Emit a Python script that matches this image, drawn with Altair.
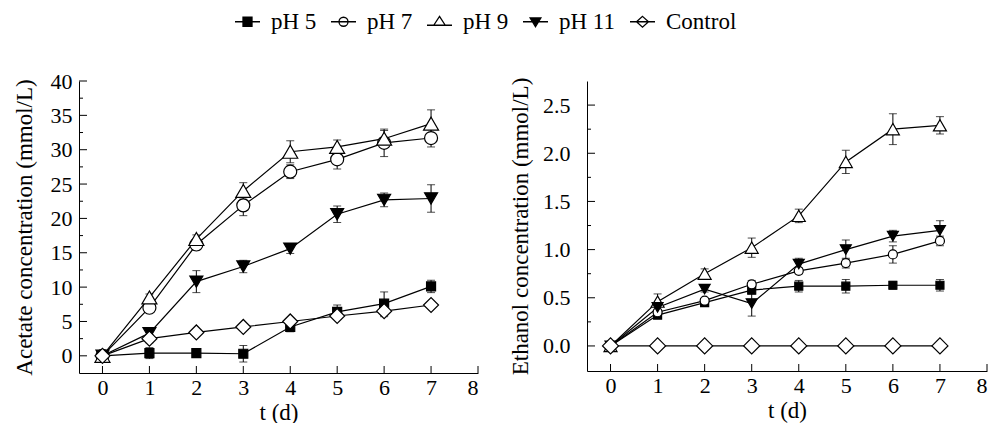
import altair as alt
import pandas as pd

DAYS = [0, 1, 2, 3, 4, 5, 6, 7]
SERIES = ["pH 5", "pH 7", "pH 9", "pH 11", "Control"]
SHAPES = ["square", "circle", "triangle-up", "triangle-down", "diamond"]
FILLS = ["black", "white", "white", "black", "white"]
SIZES_AC = [81, 169, 225, 169, 225]
SIZES_ET = [64, 81, 169, 121, 256]
LEGEND_PATHS = [
    "M-1,0L1,0M-0.36,-0.36L0.36,-0.36L0.36,0.36L-0.36,0.36Z",
    "M-1,0L1,0M0.36,0A0.36,0.36,0,1,1,-0.36,0A0.36,0.36,0,1,1,0.36,0Z",
    "M-1,0.28L1,0.28M0,-0.43L0.46,0.28L-0.46,0.28Z",
    "M-1,0L1,0M0,0.4L0.43,-0.3L-0.43,-0.3Z",
    "M-1,0L1,0M0,-0.43L0.48,0L0,0.43L-0.48,0Z",
]

# Acetate (mmol/L)
ac_ph5 = [0, 0.4, 0.4, 0.3, 4.2, 6.4, 7.6, 10.1]
ac_ph5_err = [0, 0.8, 0.3, 1.2, 0.7, 1.0, 1.7, 0.9]
ac_ph7 = [0, 7.0, 16.2, 21.9, 26.8, 28.6, 31.0, 31.7]
ac_ph7_err = [0, 0.5, 0.8, 1.5, 1.0, 1.4, 2.0, 1.3]
ac_ph9 = [0, 8.5, 17.0, 24.0, 29.7, 30.4, 31.6, 33.8]
ac_ph9_err = [0, 0.5, 0.6, 1.2, 1.6, 1.0, 1.2, 2.0]
ac_ph11 = [0, 3.3, 10.8, 13.0, 15.6, 20.6, 22.7, 22.9]
ac_ph11_err = [0, 0.6, 1.6, 0.9, 0.7, 1.2, 1.0, 2.0]
ac_ctrl = [0, 2.5, 3.4, 4.2, 5.0, 5.8, 6.5, 7.4]
ac_ctrl_err = [0, 0.6, 0.4, 0.5, 0.4, 0.5, 0.8, 0.4]

# Ethanol (mmol/L)
et_ph5 = [0, 0.32, 0.45, 0.58, 0.62, 0.62, 0.63, 0.63]
et_ph5_err = [0, 0.02, 0.02, 0.04, 0.06, 0.07, 0.04, 0.06]
et_ph7 = [0, 0.35, 0.47, 0.64, 0.78, 0.86, 0.95, 1.09]
et_ph7_err = [0, 0.02, 0.02, 0.04, 0.03, 0.05, 0.09, 0.05]
et_ph9 = [0, 0.46, 0.75, 1.02, 1.35, 1.91, 2.25, 2.29]
et_ph9_err = [0, 0.08, 0.05, 0.10, 0.07, 0.12, 0.16, 0.09]
et_ph11 = [0, 0.40, 0.59, 0.44, 0.85, 1.00, 1.14, 1.20]
et_ph11_err = [0, 0.03, 0.03, 0.13, 0.06, 0.10, 0.06, 0.10]
et_ctrl = [0, 0, 0, 0, 0, 0, 0, 0]
et_ctrl_err = [0, 0, 0, 0, 0, 0, 0, 0]

X_TICKS = [0, 1, 2, 3, 4, 5, 6, 7, 8]
AC_MAJOR = [0, 5, 10, 15, 20, 25, 30, 35, 40]
AC_MINOR = [2.5, 7.5, 12.5, 17.5, 22.5, 27.5, 32.5, 37.5]
ET_MAJOR = [0.0, 0.5, 1.0, 1.5, 2.0, 2.5]
ET_MINOR = [0.25, 0.75, 1.25, 1.75, 2.25]

FONT = "Liberation Serif"


def build_df(vals, errs, sizes):
    rows = []
    for s, shp, fl, sz, v, e in zip(SERIES, SHAPES, FILLS, sizes, vals, errs):
        for t, vv, ee in zip(DAYS, v, e):
            rows.append({"series": s, "shape": shp, "fill": fl, "sz": sz, "t": t,
                         "v": vv, "lo": vv - ee, "hi": vv + ee, "err": ee})
    return pd.DataFrame(rows)


def panel(df, ydom, major, minor, ytitle, fmt, w, h, lpad, tpad, legend):
    xs = alt.Scale(domain=[-0.5, 8], nice=False, zero=False)
    ys = alt.Scale(domain=ydom, nice=False, zero=False)
    xax = alt.Axis(values=X_TICKS, title="t (d)", ticks=False, domainColor="black",
                   labelFont=FONT, labelFontSize=22, labelColor="black", labelPadding=4,
                   titleFont=FONT, titleFontSize=23, titleFontWeight="normal",
                   titleColor="black", titlePadding=3, grid=False, format="d")
    yax = alt.Axis(values=major, title=ytitle, ticks=False, domainColor="black",
                   labelFont=FONT, labelFontSize=22, labelColor="black", labelPadding=lpad,
                   titleFont=FONT, titleFontSize=23, titleFontWeight="normal",
                   titleColor="black", titlePadding=tpad, grid=False, format=fmt)
    X = alt.X("t:Q", scale=xs, axis=xax)
    Y = alt.Y("v:Q", scale=ys, axis=yax)

    ymaj = alt.Chart(pd.DataFrame({"v": major})).mark_rule(color="black", strokeWidth=1).encode(
        y=Y, x=alt.value(0), x2=alt.value(8))
    ymin = alt.Chart(pd.DataFrame({"v": minor})).mark_rule(color="black", strokeWidth=1).encode(
        y=Y, x=alt.value(0), x2=alt.value(4))
    xtk = alt.Chart(pd.DataFrame({"t": X_TICKS})).mark_rule(color="black", strokeWidth=1).encode(
        x=X, y=alt.value(h), y2=alt.value(h - 7))

    base = alt.Chart(df)
    errd = base.transform_filter("datum.err > 0")
    bars = errd.mark_rule(color="black", strokeWidth=1).encode(
        x=X, y=alt.Y("lo:Q", scale=ys, axis=yax), y2="hi:Q")
    cap_hi = errd.mark_tick(color="black", orient="horizontal", size=8, thickness=1).encode(
        x=X, y=alt.Y("hi:Q", scale=ys, axis=yax))
    cap_lo = errd.mark_tick(color="black", orient="horizontal", size=8, thickness=1).encode(
        x=X, y=alt.Y("lo:Q", scale=ys, axis=yax))
    lines = base.mark_line(color="black", strokeWidth=1.2).encode(
        x=X, y=Y, detail="series:N", order="t:Q")
    pts = base.mark_point(filled=True, stroke="black", strokeWidth=1.2, opacity=1).encode(
        x=X, y=Y,
        shape=alt.Shape("shape:N", scale=None),
        fill=alt.Fill("fill:N", scale=None),
        size=alt.Size("sz:Q", scale=None))
    layers = [ymaj, ymin, xtk, bars, cap_hi, cap_lo, lines, pts]
    if legend:
        leg = alt.Legend(orient="none", legendX=155, legendY=-73, direction="horizontal",
                         columns=5, title=None, labelFont=FONT, labelFontSize=23,
                         labelColor="black", symbolSize=625, symbolStrokeColor="black",
                         symbolStrokeWidth=1.3, labelOffset=10, columnPadding=11,
                         symbolOpacity=1)
        lg = base.transform_filter("datum.t < 0").mark_point(
            filled=True, stroke="black", strokeWidth=1.3, opacity=1).encode(
            x=X, y=Y,
            shape=alt.Shape("series:N", scale=alt.Scale(domain=SERIES, range=LEGEND_PATHS), legend=leg),
            fill=alt.Fill("series:N", scale=alt.Scale(domain=SERIES, range=FILLS), legend=leg))
        layers.append(lg)
    return alt.layer(*layers).properties(width=w, height=h)


ac_df = build_df([ac_ph5, ac_ph7, ac_ph9, ac_ph11, ac_ctrl],
                 [ac_ph5_err, ac_ph7_err, ac_ph9_err, ac_ph11_err, ac_ctrl_err], SIZES_AC)
et_df = build_df([et_ph5, et_ph7, et_ph9, et_ph11, et_ctrl],
                 [et_ph5_err, et_ph7_err, et_ph9_err, et_ph11_err, et_ctrl_err], SIZES_ET)

left = panel(ac_df, [-2.5, 40], AC_MAJOR, AC_MINOR, "Acetate concentration (mmol/L)",
             "d", 399, 292, 7, 14, True)
right = panel(et_df, [-0.26, 2.75], ET_MAJOR, ET_MINOR, "Ethanol concentration (mmol/L)",
              ".1f", 400, 290, 17, 10, False)

chart = alt.hconcat(left, right, spacing=30).properties(
    padding={"left": 4, "top": 0, "right": 0, "bottom": 0}
).configure_view(stroke=None)

chart.save("out.html", embed_options={"renderer": "svg", "actions": False})
